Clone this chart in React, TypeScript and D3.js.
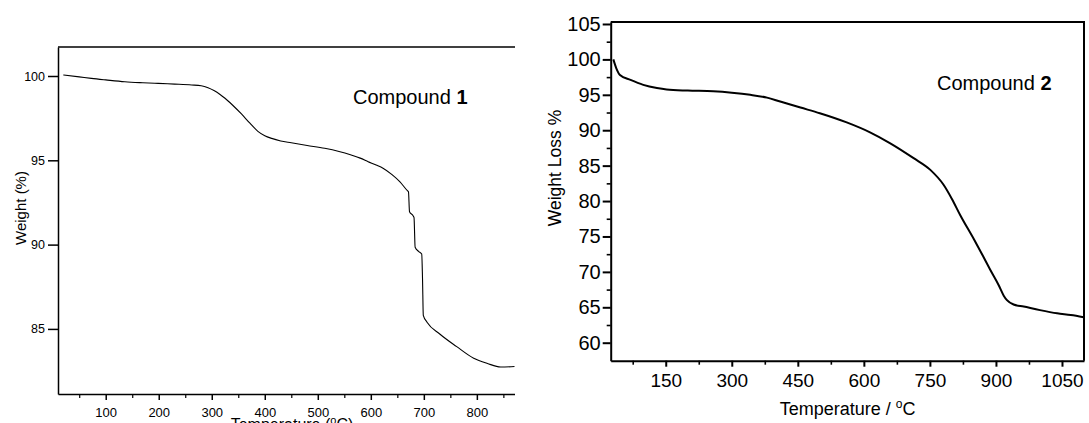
import React, { useEffect, useRef } from 'react';
import * as d3 from 'd3';

// Compound 1 TGA curve
const c1Temp = [20, 50, 73, 100, 136, 170, 199, 230, 262, 280, 293, 305, 315, 325, 340, 356, 372, 387, 400, 413, 430, 450, 480, 513, 540, 563, 580, 595, 610, 623, 640, 655, 669, 671, 673, 680, 681.5, 683.6, 690, 696, 697.5, 699, 706, 730, 762, 794, 820, 845, 871];
const c1Weight = [100.06, 99.95, 99.86, 99.77, 99.66, 99.6, 99.56, 99.52, 99.47, 99.42, 99.3, 99.12, 98.92, 98.68, 98.25, 97.75, 97.2, 96.72, 96.46, 96.3, 96.15, 96.04, 95.88, 95.71, 95.52, 95.31, 95.13, 94.92, 94.72, 94.53, 94.15, 93.72, 93.2, 93.14, 91.95, 91.7, 91.6, 89.84, 89.6, 89.44, 88.0, 85.8, 85.4, 84.7, 83.95, 83.26, 82.95, 82.74, 82.77];

// Compound 2 TGA curve
const c2Temp = [31, 38, 46, 70, 99, 130, 152, 200, 258, 300, 342, 380, 410, 456, 500, 561, 614, 660, 713, 751, 781, 800, 819, 850, 870, 887, 906, 918, 925, 940, 963, 1000, 1039, 1070, 1099];
const c2Weight = [100.0, 98.7, 97.8, 97.1, 96.4, 95.95, 95.75, 95.6, 95.5, 95.3, 95.0, 94.6, 94.05, 93.2, 92.4, 91.1, 89.7, 88.15, 86.05, 84.4, 82.3, 80.3, 78.0, 74.6, 72.3, 70.3, 68.15, 66.6, 66.0, 65.4, 65.1, 64.6, 64.15, 63.9, 63.6];

const c1XTicks = [100, 200, 300, 400, 500, 600, 700, 800];
const c1XMinor = [50, 150, 250, 350, 450, 550, 650, 750, 850];
const c1YTicks = [85, 90, 95, 100];

const c2XTicks = [150, 300, 450, 600, 750, 900, 1050];
const c2XMinor = [75, 225, 375, 525, 675, 825, 975];
const c2YTicks = [60, 65, 70, 75, 80, 85, 90, 95, 100, 105];
const c2YMinor = [62.5, 67.5, 72.5, 77.5, 82.5, 87.5, 92.5, 97.5, 102.5];

const W = 1089;
const H = 423;
const FONT = "'Liberation Sans', Arial, Helvetica, sans-serif";

export default function App() {
  const ref = useRef<SVGSVGElement>(null);

  useEffect(() => {
    const svg = d3.select(ref.current);
    svg.selectAll('*').remove();

    // ---------- Chart 1 ----------
    const L1 = 58, R1 = 514.5, T1 = 47, B1 = 394;
    const x1 = d3.scaleLinear().domain([10, 871]).range([L1, R1]);
    const y1 = d3.scaleLinear().domain([81.14, 101.72]).range([B1, T1]);
    const g1 = svg.append('g');

    const styleAxis = (sel: any, sw: number, fs: number) => {
      sel.selectAll('path').attr('stroke', '#000').attr('stroke-width', sw);
      sel.selectAll('line').attr('stroke', '#000').attr('stroke-width', sw);
      sel.selectAll('text').attr('fill', '#000').attr('font-family', FONT).attr('font-size', fs);
      sel.attr('font-family', FONT);
    };

    const ax1b = g1.append('g').attr('transform', `translate(0,${B1})`)
      .call(d3.axisBottom(x1).tickValues(c1XTicks).tickSize(6).tickSizeOuter(0).tickPadding(7.5).tickFormat(d3.format('d')));
    styleAxis(ax1b, 1.5, 13);
    const ax1bm = g1.append('g').attr('transform', `translate(0,${B1})`)
      .call(d3.axisBottom(x1).tickValues(c1XMinor.filter(v => v <= 871)).tickSize(4).tickSizeOuter(0).tickFormat(() => ''));
    ax1bm.select('.domain').remove();
    styleAxis(ax1bm, 1.2, 13);

    const ax1l = g1.append('g').attr('transform', `translate(${L1},0)`)
      .call(d3.axisLeft(y1).tickValues(c1YTicks).tickSize(10).tickSizeOuter(0).tickPadding(3).tickFormat(d3.format('d')));
    styleAxis(ax1l, 1.5, 12.5);

    g1.append('line').attr('x1', L1).attr('x2', R1 + 0.5).attr('y1', T1).attr('y2', T1)
      .attr('stroke', '#000').attr('stroke-width', 1.5);

    const line1 = d3.line<number>()
      .x((d, i) => x1(c1Temp[i]))
      .y((d) => y1(d))
      .curve(d3.curveMonotoneX);
    g1.append('path').attr('d', line1(c1Weight) as string)
      .attr('fill', 'none').attr('stroke', '#000').attr('stroke-width', 1.1);

    const t1 = g1.append('text').attr('x', 353).attr('y', 104)
      .attr('font-family', FONT).attr('font-size', 20).attr('fill', '#000');
    t1.append('tspan').text('Compound ');
    t1.append('tspan').attr('font-weight', 'bold').text('1');

    g1.append('text')
      .attr('transform', `translate(20,208) rotate(-90)`)
      .attr('text-anchor', 'middle').attr('dominant-baseline', 'central')
      .attr('font-family', FONT).attr('font-size', 15).attr('fill', '#000')
      .text('Weight (%)');

    const xl1 = g1.append('text').attr('x', 292).attr('y', 429.5).attr('text-anchor', 'middle')
      .attr('font-family', FONT).attr('font-size', 16).attr('fill', '#000');
    xl1.append('tspan').text('Temperature (');
    xl1.append('tspan').attr('font-size', 11).attr('dy', -6).text('o');
    xl1.append('tspan').attr('dy', 6).text('C)');

    // ---------- Chart 2 ----------
    const L2 = 610.7, R2 = 1084, T2 = 22, B2 = 360.7;
    const x2 = d3.scaleLinear().domain([25, 1100]).range([L2, R2]);
    const y2 = d3.scaleLinear().domain([57.46, 105.28]).range([B2, T2]);
    const g2 = svg.append('g');

    const ax2b = g2.append('g').attr('transform', `translate(0,${B2})`)
      .call(d3.axisBottom(x2).tickValues(c2XTicks).tickSize(6).tickSizeOuter(0).tickPadding(6.8).tickFormat(d3.format('d')));
    styleAxis(ax2b, 2, 19);
    const ax2bm = g2.append('g').attr('transform', `translate(0,${B2})`)
      .call(d3.axisBottom(x2).tickValues(c2XMinor).tickSize(4).tickSizeOuter(0).tickFormat(() => ''));
    ax2bm.select('.domain').remove();
    styleAxis(ax2bm, 1.6, 19);

    const ax2l = g2.append('g').attr('transform', `translate(${L2},0)`)
      .call(d3.axisLeft(y2).tickValues(c2YTicks).tickSize(8).tickSizeOuter(0).tickPadding(2).tickFormat(d3.format('d')));
    styleAxis(ax2l, 2, 20);
    const ax2lm = g2.append('g').attr('transform', `translate(${L2},0)`)
      .call(d3.axisLeft(y2).tickValues(c2YMinor).tickSize(4).tickSizeOuter(0).tickFormat(() => ''));
    ax2lm.select('.domain').remove();
    styleAxis(ax2lm, 1.6, 20);

    g2.append('path')
      .attr('d', `M${L2},${T2}H${R2}V${B2}`)
      .attr('fill', 'none').attr('stroke', '#000').attr('stroke-width', 2);

    const line2 = d3.line<number>()
      .x((d, i) => x2(c2Temp[i]))
      .y((d) => y2(d))
      .curve(d3.curveMonotoneX);
    g2.append('path').attr('d', line2(c2Weight) as string)
      .attr('fill', 'none').attr('stroke', '#000').attr('stroke-width', 2);

    const t2 = g2.append('text').attr('x', 937).attr('y', 90)
      .attr('font-family', FONT).attr('font-size', 20).attr('fill', '#000');
    t2.append('tspan').text('Compound ');
    t2.append('tspan').attr('font-weight', 'bold').text('2');

    g2.append('text')
      .attr('transform', `translate(555,168) rotate(-90)`)
      .attr('text-anchor', 'middle').attr('dominant-baseline', 'central')
      .attr('font-family', FONT).attr('font-size', 17.5).attr('fill', '#000')
      .text('Weight Loss %');

    const xl2 = g2.append('text').attr('x', 847.5).attr('y', 415).attr('text-anchor', 'middle')
      .attr('font-family', FONT).attr('font-size', 18).attr('fill', '#000');
    xl2.append('tspan').text('Temperature / ');
    xl2.append('tspan').attr('font-size', 12).attr('dy', -7).text('o');
    xl2.append('tspan').attr('dy', 7).text('C');
  }, []);

  return (
    <svg
      ref={ref}
      width={W}
      height={H}
      style={{ position: 'absolute', left: 0, top: 0, background: '#fff', display: 'block' }}
    />
  );
}
